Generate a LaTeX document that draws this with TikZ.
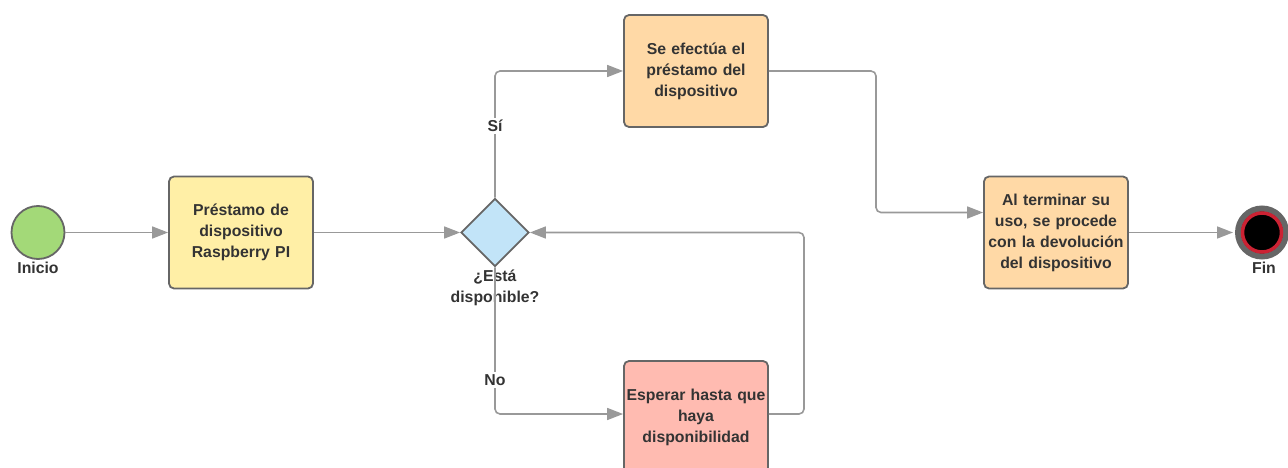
\documentclass[tikz,border=0pt]{standalone}
\usepackage{fontspec}
\setmainfont{Liberation Sans}
\usetikzlibrary{shapes.geometric,arrows.meta,calc}
\definecolor{txtc}{HTML}{333333}
\definecolor{linec}{HTML}{999999}
\definecolor{bordc}{HTML}{666666}
\definecolor{yellowf}{HTML}{FFEFA6}
\definecolor{orangef}{HTML}{FFD9A6}
\definecolor{redf}{HTML}{FFBBB1}
\definecolor{bluef}{HTML}{C2E4F8}
\definecolor{greenf}{HTML}{A3D978}
\definecolor{ringred}{HTML}{CC2233}
\tikzset{
  procbox/.style={draw=bordc, line width=1.8pt, rounded corners=5pt, minimum width=144pt, minimum height=112pt, inner sep=0pt, text width=142pt, align=center, font=\fontsize{15.8}{21}\selectfont\bfseries, text=txtc},
  conn/.style={draw=linec, line width=1.6pt, rounded corners=5pt, -{Triangle[length=16pt,width=12pt]}},
  txt/.style={font=\fontsize{15.8}{21}\selectfont\bfseries, text=txtc, align=center, inner sep=1pt},
  lbl/.style={txt, fill=white, inner sep=2pt}
}
\begin{document}
\begin{tikzpicture}[x=1pt,y=-1pt]
\useasboundingbox (0,0) rectangle (1288,468);
% nodes
\node[circle, draw=bordc, line width=1.8pt, fill=greenf, minimum size=53pt, inner sep=0pt] (inicio) at (38,232.5) {};
\node[txt] (inicioL) at (38,268) {Inicio};
\node[procbox, fill=yellowf] (box1) at (241,232.5) {Préstamo de\\dispositivo\\Raspberry PI};
\node[diamond, draw=bordc, line width=1.8pt, fill=bluef, minimum width=68pt, minimum height=68pt, inner sep=0pt] (dia) at (495,232.5) {};
\node[txt] (diaL) at (495,288) {¿Está\\disponible?};
\node[procbox, fill=orangef] (boxtop) at (696,71) {Se efectúa el\\préstamo del\\dispositivo\\[9pt]};
\node[procbox, fill=orangef] (boxright) at (1056,232.5) {Al terminar su\\uso, se procede\\con la devolución\\del dispositivo};
\node[procbox, fill=redf] (boxbot) at (696,417) {Esperar hasta que\\haya\\disponibilidad\\[4pt]};
\node[circle, draw=bordc, line width=6pt, fill=black, minimum size=48pt, inner sep=0pt] (fin) at (1262,232.5) {};
\draw[ringred, line width=3.5pt] (fin.center) circle (19.5);
\node[txt] (finL) at (1264,268) {Fin};
\coordinate (c1) at (876,71);
\coordinate (c2) at (804,414);
% connectors
\draw[conn] (inicio) -- (box1);
\draw[conn] (box1.east) -- (dia.west);
\draw[conn] (dia.north) |- (boxtop.west);
\draw[conn] (boxtop.east) -- (c1) |- ([yshift=20pt]boxright.west);
\draw[conn] (boxright.east) -- ([xshift=-2pt]fin.west);
\draw[conn] (dia.south) |- ([yshift=3pt]boxbot.west);
\draw[conn] ([yshift=3pt]boxbot.east) -- (c2) |- (dia.east);
% edge labels
\node[lbl] (si) at (495,126) {Sí};
\node[lbl] (no) at (495,380) {No};
\end{tikzpicture}
\end{document}
